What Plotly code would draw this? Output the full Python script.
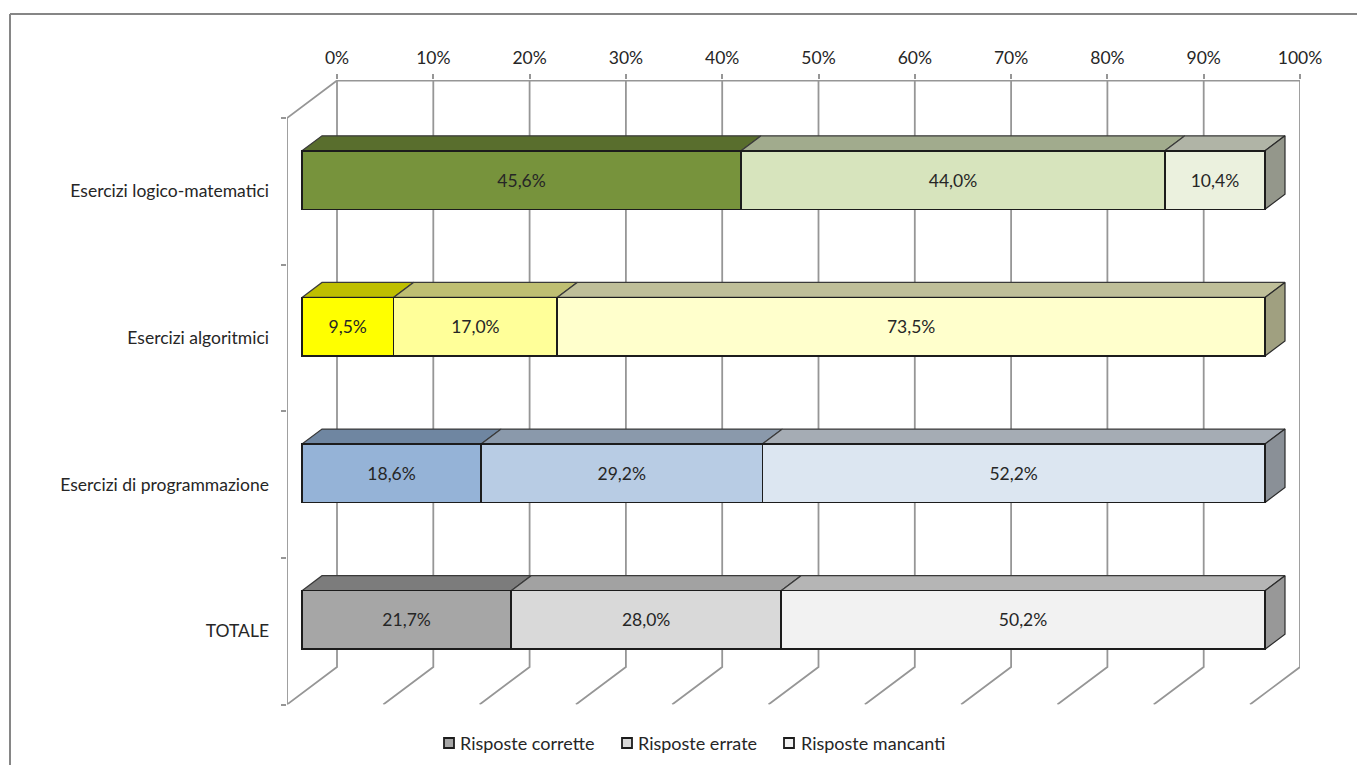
import plotly.graph_objects as go

categories = ["TOTALE", "Esercizi di programmazione", "Esercizi algoritmici", "Esercizi logico-matematici"]
corrette = [21.7, 18.6, 9.5, 45.6]
errate = [28.0, 29.2, 17.0, 44.0]
mancanti = [50.2, 52.2, 73.5, 10.4]
tick_values = [0, 10, 20, 30, 40, 50, 60, 70, 80, 90, 100]
tick_labels = ["0%", "10%", "20%", "30%", "40%", "50%", "60%", "70%", "80%", "90%", "100%"]

series = [("Risposte corrette", corrette, ["#A6A6A6", "#95B3D7", "#FFFF00", "#77933C"]),
          ("Risposte errate", errate, ["#D9D9D9", "#B8CCE4", "#FFFF99", "#D7E4BD"]),
          ("Risposte mancanti", mancanti, ["#F2F2F2", "#DCE6F1", "#FFFFCC", "#EBF1DE"])]

W, H = 1357, 765
FONT = "Lato"
FS = 17.5
TXT = "#262626"
GRID = "#969696"
OUT = "#1c1c1c"
# pixel geometry of the pseudo-3D box
LEFT, RIGHT, TOP, BOTTOM = 287, 1300, 80, 704.5
PX_PCT, PX_CAT = 9.63, 146.625
DEPTH_X, DEPTH_Y = 50, 37.5
DX, DY = DEPTH_X / PX_PCT, DEPTH_Y / PX_CAT
D0, D1 = 0.3, 0.7        # bar depth inside the box
BAR = 0.399
# legend key left edges (px); the text starts just right of each key
LEGEND_KEY_X = [444, 622, 784]
LEGEND_TEXT_X = [459, 637, 800]
LEGEND_Y = 743


def shade(c, f):
    r, g, b = int(c[1:3], 16), int(c[3:5], 16), int(c[5:7], 16)
    return "#%02X%02X%02X" % (int(r * f), int(g * f), int(b * f))


def px(v, d):            # value at depth d -> x on back-plane axis
    return v - DX * (1 - d)


def py(y, d):            # category position at depth d -> y on front-plane numeric axis
    return y + d * DY


fig = go.Figure()


def line(xs, ys):
    fig.add_trace(go.Scatter(x=xs, y=ys, mode="lines", line=dict(color=GRID, width=1.8),
                             showlegend=False, hoverinfo="skip", xaxis="x", yaxis="y"))


y_floor, y_top = -0.5, -0.5 + len(categories)
# back wall gridlines + floor diagonals
for t in tick_values:
    line([px(t, 0), px(t, 1), px(t, 1)], [py(y_floor, 0), py(y_floor, 1), py(y_top, 1)])
# back top edge, left wall
line([px(0, 1), px(100, 1)], [py(y_top, 1), py(y_top, 1)])
line([px(0, 0), px(0, 0), px(0, 1)], [y_floor, y_top, py(y_top, 1)])

# 3D faces, from the same values
for ci, cat in enumerate(categories):
    total = sum(s[1][ci] for s in series)
    cum = 0
    for si, (name, vals, cols) in enumerate(series):
        a, b = cum / total * 100, (cum + vals[ci]) / total * 100
        cum += vals[ci]
        t = ci + BAR / 2
        fig.add_trace(go.Scatter(
            x=[px(a, D0), px(b, D0), px(b, D1), px(a, D1), px(a, D0)],
            y=[py(t, D0), py(t, D0), py(t, D1), py(t, D1), py(t, D0)],
            mode="lines", fill="toself", fillcolor=shade(cols[ci], 0.75),
            line=dict(color="#3a3a3a", width=1.2), showlegend=False, hoverinfo="skip"))
        if si == len(series) - 1:
            u = ci - BAR / 2
            fig.add_trace(go.Scatter(
                x=[px(b, D0), px(b, D1), px(b, D1), px(b, D0), px(b, D0)],
                y=[py(u, D0), py(u, D1), py(t, D1), py(t, D0), py(u, D0)],
                mode="lines", fill="toself", fillcolor=shade(cols[ci], 0.63),
                line=dict(color="#2a2a2a", width=1.2), showlegend=False, hoverinfo="skip"))

# front faces
for name, vals, cols in series:
    fig.add_trace(go.Bar(
        name=name, y=categories, x=vals, orientation="h", width=BAR, showlegend=False,
        marker=dict(color=cols, line=dict(color=OUT, width=1.6)),
        customdata=vals, texttemplate="%{customdata:.1f}%", textposition="inside",
        insidetextanchor="middle", textangle=0, constraintext="none",
        textfont=dict(family=FONT, size=FS, color=TXT),
        xaxis="x2", yaxis="y2", hovertemplate="%{y}: %{customdata:.1f}%<extra>" + name + "</extra>"))

# category labels on the front plane
fig.add_trace(go.Scatter(x=[None] * len(categories), y=categories, mode="lines", showlegend=False,
                         hoverinfo="skip", xaxis="x", yaxis="y3"))

xdom = [LEFT / W, RIGHT / W]
ydom = [1 - BOTTOM / H, 1 - TOP / H]
span_y = (BOTTOM - TOP) / PX_CAT
span_x = (RIGHT - LEFT) / PX_PCT
shift = D0 * DY
hidden = dict(visible=False, fixedrange=True)

shapes = [dict(type="line", xref="paper", yref="paper", x0=10 / W, x1=1, y0=1 - 14 / H, y1=1 - 14 / H,
               line=dict(color="#868686", width=2)),
          dict(type="line", xref="paper", yref="paper", x0=10 / W, x1=10 / W, y0=1 - 14 / H, y1=0,
               line=dict(color="#868686", width=2))]
annotations = []
for i, (name, vals, cols) in enumerate(series):
    shapes.append(dict(type="rect", xref="paper", yref="paper",
                       x0=LEGEND_KEY_X[i] / W, x1=(LEGEND_KEY_X[i] + 10) / W,
                       y0=1 - (LEGEND_Y + 5) / H, y1=1 - (LEGEND_Y - 5) / H,
                       fillcolor=cols[0], line=dict(color=OUT, width=1.8)))
    annotations.append(dict(xref="paper", yref="paper", x=LEGEND_TEXT_X[i] / W, y=1 - LEGEND_Y / H,
                            xanchor="left", yanchor="middle", showarrow=False, text=name, borderpad=0,
                            font=dict(family=FONT, size=18, color=TXT)))

fig.update_layout(
    width=W, height=H, margin=dict(l=0, r=0, t=0, b=0, pad=0, autoexpand=False), autosize=False,
    paper_bgcolor="white", plot_bgcolor="rgba(0,0,0,0)", barmode="stack", barnorm="percent",
    separators=",.", font=dict(family=FONT, size=FS, color=TXT), showlegend=False,
    xaxis=dict(domain=xdom, range=[-DX, 100], side="top", anchor="y", tickmode="array",
               tickvals=tick_values, ticktext=tick_labels,
               showgrid=False, zeroline=False, showline=False, ticks="outside", ticklen=5, tickwidth=1.8,
               tickcolor=GRID, tickfont=dict(family=FONT, size=FS, color=TXT), ticklabelstandoff=3, fixedrange=True),
    yaxis=dict(domain=ydom, range=[-0.5, -0.5 + span_y], **hidden),
    xaxis2=dict(domain=xdom, range=[-DX * D0, -DX * D0 + span_x], overlaying="x", anchor="y2", **hidden),
    yaxis2=dict(domain=ydom, range=[-0.5 - shift, -0.5 - shift + span_y], overlaying="y", anchor="x2",
                type="category", categoryorder="array", categoryarray=categories, **hidden),
    yaxis3=dict(domain=ydom, range=[-0.5, -0.5 + span_y], overlaying="y", anchor="x", side="left",
                type="category", categoryorder="array", categoryarray=categories, tickson="boundaries",
                ticks="outside", ticklen=5, tickwidth=1.8, tickcolor=GRID, showgrid=False, showline=False,
                zeroline=False, ticklabelstandoff=17, tickfont=dict(family=FONT, size=FS, color=TXT), fixedrange=True),
    shapes=shapes, annotations=annotations,
)

fig.write_html("out.html", post_script="document.body.style.margin='0';document.body.style.overflow='hidden';",
               config=dict(displayModeBar=False))
